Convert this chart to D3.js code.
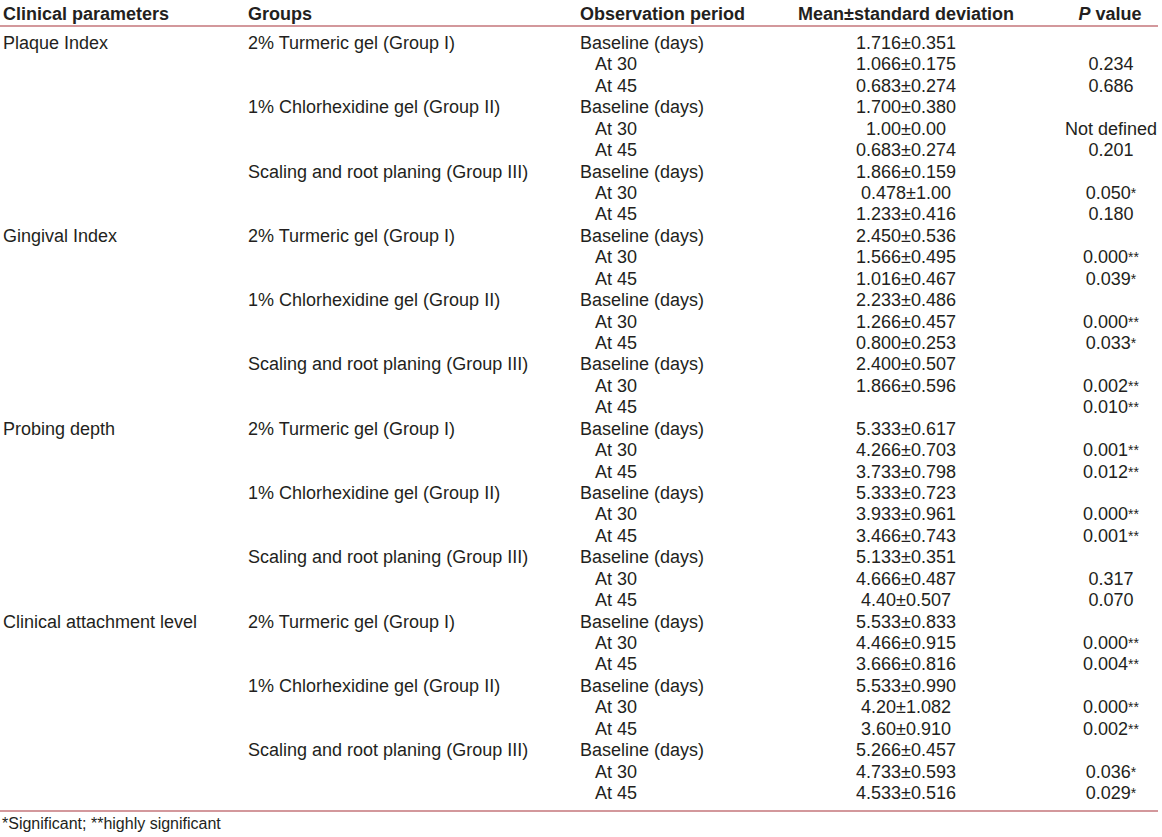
<!DOCTYPE html>
<html lang="en">
<head>
  <meta charset="UTF-8">
  <title>Clinical parameters table</title>
  <style>
    body { margin: 0; background: #fff; }
    text { font-family: "Liberation Sans", Arial, sans-serif; fill: #231f20; }
  </style>
</head>
<body>
  <script src="https://d3js.org/d3.v7.min.js"></script>
  <script>
    const headers = ['Clinical parameters', 'Groups', 'Observation period', 'Mean\u00b1standard deviation', 'P value']
    const parameters = ['Plaque Index', 'Gingival Index', 'Probing depth', 'Clinical attachment level']
    const groups = ['2% Turmeric gel (Group I)', '1% Chlorhexidine gel (Group II)', 'Scaling and root planing (Group III)']
    const periods = ['Baseline (days)', 'At 30', 'At 45']

    const means = [
      '1.716', '1.066', '0.683', '1.700', '1.00', '0.683', '1.866', '0.478', '1.233',
      '2.450', '1.566', '1.016', '2.233', '1.266', '0.800', '2.400', '1.866', '',
      '5.333', '4.266', '3.733', '5.333', '3.933', '3.466', '5.133', '4.666', '4.40',
      '5.533', '4.466', '3.666', '5.533', '4.20', '3.60', '5.266', '4.733', '4.533'
    ]
    const sds = [
      '0.351', '0.175', '0.274', '0.380', '0.00', '0.274', '0.159', '1.00', '0.416',
      '0.536', '0.495', '0.467', '0.486', '0.457', '0.253', '0.507', '0.596', '',
      '0.617', '0.703', '0.798', '0.723', '0.961', '0.743', '0.351', '0.487', '0.507',
      '0.833', '0.915', '0.816', '0.990', '1.082', '0.910', '0.457', '0.593', '0.516'
    ]
    const pValues = [
      '', '0.234', '0.686', '', 'Not defined', '0.201', '', '0.050*', '0.180',
      '', '0.000**', '0.039*', '', '0.000**', '0.033*', '', '0.002**', '0.010**',
      '', '0.001**', '0.012**', '', '0.000**', '0.001**', '', '0.317', '0.070',
      '', '0.000**', '0.004**', '', '0.000**', '0.002**', '', '0.036*', '0.029*'
    ]
    const footnote = '*Significant; **highly significant'

    const width = 1162
    const height = 837
    const lineColor = '#a8323a'

    const rows = means.map((m, i) => ({
      parameter: i % 9 === 0 ? parameters[Math.floor(i / 9)] : '',
      group: i % 3 === 0 ? groups[Math.floor(i / 3) % 3] : '',
      period: periods[i % 3],
      mean: m === '' ? '' : m + '\u00b1' + sds[i],
      p: pValues[i]
    }))

    const y = d3.scaleLinear()
      .domain([0, rows.length - 1])
      .range([49, 799])

    const svg = d3.select('body')
      .append('svg')
      .attr('width', width)
      .attr('height', height)

    // header
    const hx = [3, 248, 580, 906, 1110]
    const head = svg.append('g')
      .attr('font-size', 18)
      .attr('font-weight', 'bold')
    head.selectAll('text')
      .data(headers.slice(0, 4))
      .enter()
      .append('text')
      .attr('x', (d, i) => hx[i])
      .attr('y', 20)
      .attr('text-anchor', (d, i) => i === 3 ? 'middle' : 'start')
      .text(d => d)
    const pHead = head.append('text')
      .attr('x', hx[4])
      .attr('y', 20)
      .attr('text-anchor', 'middle')
    pHead.append('tspan').attr('font-style', 'italic').text('P')
    pHead.append('tspan').text(' value')

    svg.append('line')
      .attr('x1', 0).attr('x2', 1158)
      .attr('y1', 26).attr('y2', 26)
      .attr('stroke', lineColor)
      .attr('stroke-width', 1.2)

    const body = svg.append('g').attr('font-size', 18)
    const row = body.selectAll('g.row')
      .data(rows)
      .enter()
      .append('g')
      .attr('class', 'row')
      .attr('transform', (d, i) => `translate(0,${y(i)})`)

    row.append('text').attr('x', 3).text(d => d.parameter)
    row.append('text').attr('x', 248).text(d => d.group)
    row.append('text')
      .attr('x', d => d.period.startsWith('Baseline') ? 580 : 595)
      .text(d => d.period)
    row.append('text')
      .attr('x', 906)
      .attr('text-anchor', 'middle')
      .text(d => d.mean)

    const pText = row.append('text')
      .attr('x', 1111)
      .attr('text-anchor', 'middle')
    pText.append('tspan').text(d => d.p.replace(/\*/g, ''))
    pText.append('tspan')
      .attr('font-size', 14)
      .attr('dy', -1)
      .text(d => (d.p.match(/\*/g) || []).join(''))

    svg.append('line')
      .attr('x1', 0).attr('x2', 1158)
      .attr('y1', 811).attr('y2', 811)
      .attr('stroke', lineColor)
      .attr('stroke-width', 1.2)

    svg.append('text')
      .attr('x', 2)
      .attr('y', 829)
      .attr('font-size', 16)
      .text(footnote)
  </script>
</body>
</html>
